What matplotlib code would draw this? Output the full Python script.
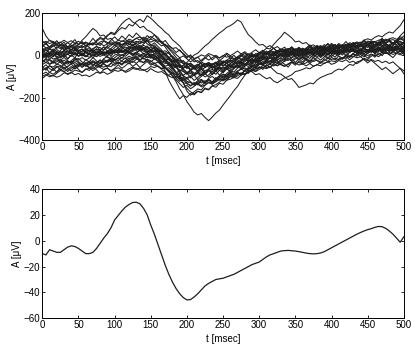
import numpy as np
import matplotlib
matplotlib.use('Agg')
import matplotlib.pyplot as plt

# ── Data ──────────────────────────────────────────────────────────────────────
t_ms = list(range(0, 501, 5))   # 101 samples, 5 ms apart

# single trials (uV), one list per trial, values at t_ms
trial_01 = [20, 28, 15, 22, 40, 33, 45, 30, 38, 52, 41,
            48, 63, 55, 49, 72, 85, 78, 96, 104, 98,
            118, 132, 125, 147, 139, 160, 171, 158, 188, 176,
            160, 142, 128, 110, 97, 74, 60, 45, 22, 5,
            -12, -30, -24, -41, -55, -47, -38, -52, -44, -29,
            -35, -22, -30, -14, -3, -11, 4, -6, 9, 2,
            14, 8, 23, 17, 6, 19, 30, 21, 12, 25,
            18, 33, 27, 14, 22, 36, 41, 29, 35, 47,
            38, 30, 44, 52, 39, 33, 48, 57, 45, 51,
            40, 54, 62, 47, 38, 52, 60, 44, 55, 49]
trial_02 = [-15, 2, -8, 10, 18, 6, 24, 16, 30, 21, 35,
            44, 37, 58, 51, 66, 80, 74, 92, 110, 103,
            128, 150, 166, 176, 158, 149, 131, 138, 120, 112,
            98, 85, 62, 40, 15, -12, -48, -86, -130, -168,
            -188, -172, -158, -163, -141, -128, -134, -112, -98, -104,
            -85, -72, -78, -60, -46, -51, -33, -24, -29, -12,
            -4, 9, 3, 18, 11, 26, 19, 33, 24, 15,
            22, 10, 17, 31, 25, 12, 20, 34, 28, 19,
            30, 41, 33, 24, 38, 47, 36, 29, 43, 55,
            48, 39, 52, 66, 57, 45, 58, 70, 63, 56]
trial_03 = [-58, -44, -62, -71, -55, -49, -66, -52, -40, -57, -46,
            -38, -51, -43, -30, -36, -48, -33, -22, -29, -17,
            -24, -9, -15, -3, -12, 6, -2, 11, -4, -13,
            -8, -24, -38, -55, -72, -96, -124, -158, -186, -218,
            -242, -268, -281, -274, -293, -308, -291, -272, -258, -234,
            -212, -190, -166, -146, -118, -94, -66, -42, -25, -9,
            -18, -4, -13, 6, -2, 12, 3, 17, 8, -5,
            2, -11, 5, 16, 4, 13, -3, 9, 22, 11,
            18, 6, 14, 29, 17, 24, 10, 21, 33, 20,
            27, 15, 30, 42, 28, 36, 19, 31, 46, 37]
trial_04 = [42, 55, 38, 47, 33, 51, 29, 40, 26, 44, 18,
            31, 14, 27, 9, 22, 5, 16, -2, 13, 24,
            11, 20, 7, 18, 2, 12, -7, 4, -12, -3,
            -16, -8, -27, -38, -31, -50, -44, -58, -47, -33,
            -14, 2, 11, 28, 45, 58, 76, 91, 106, 118,
            133, 141, 152, 168, 158, 126, 98, 83, 64, 49,
            52, 38, 47, 33, 42, 28, 39, 24, 31, 19,
            27, 14, 23, 40, 32, 47, 36, 51, 42, 57,
            46, 34, 49, 38, 53, 44, 58, 47, 35, 48,
            37, 52, 43, 57, 46, 29, 41, 25, 36, 47]
trial_05 = [-88, -79, -93, -97, -84, -71, -76, -90, -82, -69, -74,
            -80, -66, -60, -71, -58, -49, -55, -47, -53, -38,
            -34, -45, -29, -24, -33, -18, -21, -12, -26, -37,
            -46, -52, -61, -57, -74, -83, -92, -86, -98, -105,
            -96, -88, -81, -90, -73, -69, -78, -62, -57, -65,
            -52, -47, -55, -40, -33, -41, -29, -24, -32, -36,
            -45, -58, -52, -69, -84, -88, -101, -114, -109, -128,
            -151, -145, -139, -130, -134, -116, -104, -97, -89, -85,
            -72, -64, -69, -55, -42, -47, -31, -25, -14, -19,
            -3, 4, -6, 8, 15, 6, 18, 11, 22, 14]
trial_06 = [128, 92, 70, 66, 58, 63, 49, 41, 46, 33, 25,
            29, 16, 8, 17, 5, -4, 3, -9, -14, 2,
            8, -1, 12, 19, 9, 15, 26, 21, 13, 4,
            -6, -2, -15, -29, -38, -47, -58, -69, -76, -88,
            -85, -94, -81, -77, -89, -72, -66, -74, -61, -55,
            -58, -49, -60, -45, -53, -64, -70, -77, -91, -86,
            -99, -110, -104, -121, -129, -118, -106, -100, -91, -76,
            -72, -66, -58, -63, -51, -44, -49, -36, -31, -25,
            -29, -16, -10, -14, -2, 5, 1, 13, 9, 20,
            16, 24, 31, 22, 28, 39, 33, 41, 30, 17]
trial_07 = [8, -6, -2, -17, -11, -23, -9, -26, -33, -20, -14,
            -31, -38, -27, -42, -49, -36, -19, -28, -22, -37,
            -30, -41, -24, -12, -21, -8, -29, -33, -18, -25,
            -39, -31, -47, -62, -58, -77, -91, -110, -104, -122,
            -128, -136, -119, -113, -127, -108, -99, -114, -97, -88,
            -94, -79, -85, -72, -66, -58, -69, -52, -46, -38,
            -47, -31, -25, -33, -19, -12, -20, -4, -9, 6,
            1, 14, 8, 21, 13, 26, 30, 19, 33, 41,
            35, 47, 42, 53, 38, 57, 64, 58, 71, 79,
            73, 86, 94, 88, 102, 111, 106, 124, 141, 168]
trial_08 = [-3, 12, 6, 19, 28, 14, 22, 9, 25, 38, 51,
            72, 88, 109, 128, 115, 92, 97, 76, 81, 62,
            58, 49, 55, 41, 47, 36, 28, 39, 26, 18,
            24, 11, -2, -19, -37, -58, -83, -106, -131, -155,
            -172, -181, -168, -176, -154, -160, -143, -138, -126, -112,
            -117, -99, -93, -84, -88, -70, -63, -55, -58, -41,
            -37, -24, -29, -11, -6, 5, -2, 14, 19, 27,
            21, 30, 18, 9, 16, 24, 33, 20, 28, 37,
            31, 42, 38, 29, 45, 51, 40, 47, 56, 49,
            58, 64, 53, 61, 70, 66, 59, 72, 81, 74]
trial_09 = [-28, -15, -22, -36, -30, -19, -34, -41, -27, -44, -52,
            -39, -47, -58, -45, -31, -38, -26, -33, -15, -24,
            -11, -28, -35, -19, -8, -14, -2, -17, -6, 7,
            1, -16, -42, -76, -118, -149, -178, -205, -189, -198,
            -180, -186, -170, -174, -158, -163, -144, -150, -131, -136,
            -117, -112, -104, -108, -92, -86, -79, -73, -64, -60,
            -48, -51, -39, -31, -35, -22, -18, -24, -10, -4,
            6, 1, 14, 8, 22, 17, 4, 12, 9, 20,
            13, 24, 19, 31, 26, 35, 22, 15, 27, 21,
            32, 26, 38, 30, 41, 34, 46, 39, 28, 36]
trial_10 = [48, 36, 41, 57, 52, 38, 27, 35, 44, 31, 24,
            15, 29, 22, 33, 41, 37, 25, 46, 54, 49,
            38, 52, 61, 55, 47, 63, 68, 59, 72, 50,
            41, 33, 18, 22, 9, -8, -27, -21, -40, -36,
            -48, -53, -61, -49, -38, -44, -52, -57, -43, -29,
            -33, -26, -41, -35, -18, -22, -13, 2, -7, 6,
            19, 34, 31, 52, 71, 88, 110, 97, 83, 64,
            68, 56, 61, 45, 50, 39, 47, 33, 38, 27,
            35, 24, 31, 49, 40, 46, 34, 42, 60, 51,
            57, 46, 53, 69, 61, 66, 54, 62, 79, 70]
trial_11 = [-4, 9, 2, 13, -7, -12, 1, 6, 17, 8, 12,
            3, -5, 7, -2, 14, 21, 11, 18, 8, 27,
            31, 22, 16, 29, 38, 33, 24, 30, 19, 12,
            20, 5, -8, -22, -17, -35, -51, -47, -66, -82,
            -78, -90, -85, -97, -88, -71, -76, -64, -69, -57,
            -63, -58, -50, -55, -44, -39, -43, -31, -26, -29,
            -20, -24, -13, -8, -12, -1, 3, -4, 6, 9,
            -1, 11, 3, 14, 9, 18, 12, 24, 15, 28,
            19, 30, 24, 36, 29, 41, 33, 46, 38, 50,
            43, 29, 34, 21, 28, 44, 37, 42, 31, 38]
trial_12 = [68, 57, 72, 61, 44, 52, 47, 60, 49, 33, 41,
            36, 48, 39, 22, 30, 26, 41, 34, 47, 62,
            55, 69, 64, 77, 70, 81, 73, 86, 79, 90,
            78, 64, 67, 49, 31, 12, -9, -28, -24, -43,
            -38, -51, -47, -30, -41, -34, -46, -39, -22, -31,
            -24, -28, -19, -12, -16, -21, -13, -6, -2, -9,
            3, 10, 18, 14, 22, 29, 24, 31, 20, 11,
            16, 23, 19, 28, 34, 30, 36, 42, 35, 30,
            39, 45, 51, 47, 55, 49, 58, 63, 57, 61,
            68, 64, 72, 77, 70, 79, 84, 76, 88, 81]
trial_13 = [-68, -60, -49, -55, -41, -47, -58, -52, -39, -33, -45,
            -51, -44, -56, -62, -49, -57, -66, -60, -71, -64,
            -58, -69, -75, -63, -55, -61, -70, -67, -78, -62,
            -73, -80, -76, -88, -97, -105, -99, -114, -129, -133,
            -141, -136, -124, -130, -119, -127, -136, -118, -110, -115,
            -101, -95, -104, -88, -82, -90, -76, -70, -62, -55,
            -59, -48, -42, -50, -37, -44, -52, -39, -31, -36,
            -45, -40, -49, -38, -51, -44, -33, -38, -29, -42,
            -36, -24, -29, -20, -33, -27, -39, -28, -17, -25,
            -19, -28, -23, -34, -27, -38, -30, -46, -61, -86]
trial_14 = [27, 35, 31, 44, 52, 45, 49, 38, 43, 58, 53,
            61, 55, 49, 57, 52, 64, 70, 62, 54, 60,
            72, 66, 75, 63, 69, 82, 87, 79, 71, 77,
            70, 74, 61, 48, 44, 33, 37, 22, 10, -6,
            -2, -14, -9, 3, -4, 9, 2, -5, -12, 0,
            -8, -3, -15, -6, 7, 1, 8, -4, 3, 15,
            9, 13, 4, 12, 24, 18, 22, 13, 19, 32,
            27, 30, 22, 28, 41, 36, 40, 31, 38, 50,
            46, 49, 41, 47, 60, 54, 58, 49, 55, 68,
            63, 66, 58, 64, 77, 71, 75, 67, 78, 92]
trial_15 = [-98, -90, -101, -94, -103, -96, -82, -86, -80, -91, -85,
            -96, -92, -100, -91, -79, -84, -78, -89, -81, -70,
            -75, -68, -80, -73, -61, -66, -60, -71, -64, -52,
            -57, -50, -62, -58, -69, -85, -103, -99, -116, -131,
            -126, -140, -136, -148, -139, -127, -134, -125, -113, -120,
            -109, -100, -105, -96, -84, -90, -81, -70, -76, -66,
            -57, -62, -55, -43, -48, -41, -50, -43, -31, -38,
            -33, -41, -35, -22, -28, -22, -31, -25, -12, -19,
            -13, -21, -15, -2, -8, -3, -11, -6, 7, 0,
            6, -1, 4, 16, 9, 14, 5, 11, 3, 12]
trial_16 = [6, -2, 3, -4, 8, 2, 11, 5, 15, 8, -3,
            2, -5, 6, 1, 10, 4, 14, 7, 18, 11,
            21, 15, 26, 20, 30, 24, 34, 27, 16, 25,
            18, 27, 17, 3, -14, -31, -28, -42, -57, -53,
            -66, -59, -48, -58, -47, -36, -45, -35, -24, -33,
            -22, -11, -19, -9, 2, -5, 3, -7, 1, -10,
            -2, 9, 0, 8, 19, 8, 17, 6, 15, 3,
            11, 1, 9, 21, 9, 18, 7, 16, 27, 16,
            25, 14, 23, 34, 22, 31, 20, 29, 18, 27,
            16, 25, 36, 24, 33, 22, 31, 42, 31, 40]
trial_17 = [33, 24, 30, 22, 10, 18, 11, 22, 14, 2, 11,
            3, 12, 5, 16, 8, 19, 11, 22, 14, 25,
            18, 29, 40, 32, 41, 31, 39, 29, 37, 26,
            33, 18, 2, -15, -36, -55, -77, -96, -117, -107,
            -124, -139, -128, -115, -129, -117, -131, -119, -104, -90,
            -99, -84, -94, -79, -88, -73, -57, -68, -51, -35,
            -44, -30, -39, -25, -34, -20, -29, -15, -24, -10,
            -19, -5, -14, 0, -9, 5, -4, 10, 1, 15,
            6, 19, 10, 23, 14, 27, 18, 5, 20, 9,
            23, 12, 26, 15, 29, 18, 32, 21, 8, 24]
trial_18 = [-43, -33, -42, -34, -20, -30, -22, -35, -25, -10, -22,
            -10, -22, -12, 4, -4, 11, 3, 15, 6, 19,
            11, 24, 15, 28, 19, 32, 23, 36, 27, 40,
            30, 16, 22, 7, -9, -2, -20, -36, -29, -45,
            -36, -50, -41, -54, -44, -33, -45, -35, -47, -37,
            -25, -37, -27, -40, -29, -17, -29, -19, -32, -21,
            -8, -19, -8, -20, -9, 6, -5, 10, 0, 13,
            4, 18, 8, 22, 12, 26, 16, 29, 19, 8,
            22, 12, 25, 15, 28, 18, 32, 22, 35, 25,
            38, 28, 41, 31, 19, 32, 22, 35, 25, 38]
trial_19 = [58, 67, 56, 64, 53, 61, 72, 61, 70, 58, 67,
            55, 63, 52, 60, 49, 57, 46, 54, 65, 53,
            62, 51, 59, 70, 59, 67, 56, 64, 75, 63,
            71, 59, 45, 53, 37, 21, 5, -11, -2, -16,
            -30, -19, -33, -22, -9, -22, -11, 1, -12, -2,
            11, -1, 9, 21, 7, 18, 4, 15, 27, 13,
            25, 11, 22, 34, 20, 31, 17, 28, 40, 26,
            38, 24, 35, 47, 33, 44, 30, 41, 53, 39,
            51, 37, 48, 34, 45, 57, 43, 54, 40, 51,
            63, 49, 60, 46, 57, 69, 55, 66, 52, 64]
trial_20 = [-108, -95, -80, -89, -76, -64, -76, -66, -52, -63, -53,
            -38, -49, -38, -24, -35, -24, -36, -25, -11, -22,
            -10, 5, -4, 11, 1, 16, 5, -6, 7, -3,
            10, -1, -15, -30, -46, -40, -55, -71, -64, -80,
            -69, -84, -74, -60, -74, -63, -49, -63, -52, -38,
            -51, -39, -25, -38, -26, -12, -26, -15, -1, -14,
            -2, -15, -4, 9, -4, 7, -6, 5, 18, 5,
            16, 3, 14, 0, 11, 23, 9, 20, 6, 17,
            29, 15, 26, 12, 23, 35, 21, 32, 18, 29,
            15, 26, 38, 24, 35, 21, 32, 44, 30, 41]
trial_21 = [14, 3, 13, 4, -8, 4, -6, 6, -4, 8, -2,
            10, 0, -9, 3, -6, 6, 18, 8, 21, 11,
            24, 14, 27, 42, 32, 45, 35, 48, 38, 27,
            40, 29, 17, 4, -9, -22, -40, -57, -47, -62,
            -51, -65, -54, -68, -57, -45, -59, -48, -36, -50,
            -38, -52, -41, -28, -42, -30, -17, -31, -19, -6,
            -20, -8, 6, -5, 9, -2, 12, 1, 15, 4,
            -6, 8, -3, 11, 0, 14, 3, 17, 6, 20,
            9, 23, 12, 26, 15, 29, 18, 7, 21, 10,
            24, 13, 27, 16, 30, 19, 33, 22, 36, 25]
trial_22 = [-22, -33, -20, -29, -42, -28, -39, -27, -37, -24, -34,
            -46, -34, -44, -30, -41, -53, -40, -50, -37, -47,
            -33, -43, -29, -40, -26, -37, -23, -34, -20, -31,
            -16, -28, -43, -60, -78, -96, -115, -133, -151, -141,
            -157, -146, -130, -143, -128, -113, -126, -111, -96, -109,
            -94, -79, -92, -77, -62, -75, -60, -45, -58, -43,
            -28, -41, -26, -11, -24, -9, 6, -7, 8, -5,
            -20, -7, -22, -37, -24, -9, -22, -7, 8, -5,
            10, -3, -18, -5, -20, -7, 8, -5, -20, -35,
            -22, -37, -52, -67, -56, -71, -86, -73, -60, -72]
trial_23 = [12, 25, 9, 31, 18, 4, 22, 37, 19, 28, 8,
            21, 35, 17, 29, 44, 26, 39, 20, 33, 48,
            57, 41, 62, 50, 68, 47, 59, 74, 55, 43,
            50, 28, 12, -6, -21, -38, -29, -52, -61, -47,
            -66, -55, -72, -49, -38, -56, -42, -31, -47, -25,
            -36, -19, -30, -8, -22, -4, -15, 9, -6, 14,
            3, 21, 7, -2, 16, 28, 11, 24, 35, 19,
            30, 12, 27, 41, 23, 36, 18, 44, 31, 50,
            38, 57, 42, 29, 48, 61, 45, 53, 70, 52,
            64, 47, 58, 73, 55, 40, 62, 51, 68, 57]
trial_24 = [-35, -18, -41, -27, -12, -33, -46, -25, -38, -14, -29,
            -42, -20, -31, -9, -26, -37, -15, -4, -22, -11,
            3, -14, 8, 19, -2, 12, 25, 7, 16, -5,
            -19, -8, -33, -51, -44, -68, -83, -71, -95, -112,
            -99, -118, -104, -87, -101, -92, -76, -89, -70, -82,
            -64, -73, -58, -46, -61, -43, -52, -35, -47, -28,
            -39, -21, -33, -16, -27, -41, -24, -12, -29, -17,
            -6, -19, -2, -14, 5, -9, 11, -3, -16, 4,
            -8, 13, 2, 18, -5, 9, 22, 6, -7, 12,
            25, 8, 19, 34, 15, 3, 21, 37, 18, 29]
trial_25 = [3, -14, 10, -6, 19, -9, 7, -18, 2, -11, 14,
            -3, 20, 6, -12, 11, 27, 4, 16, -5, 22,
            38, 15, 31, 9, 26, 44, 21, 36, 12, 29,
            8, 22, -5, -24, -13, -40, -56, -43, -74, -88,
            -70, -96, -81, -62, -85, -69, -91, -74, -57, -79,
            -48, -66, -40, -58, -31, -50, -24, -39, -13, -30,
            -8, -27, -2, 14, -11, 6, -16, 9, 24, 1,
            17, -4, 12, 29, 8, 22, -2, 15, 31, 10,
            26, 4, 19, 37, 15, 30, 9, 24, 42, 18,
            33, 11, 28, 46, 22, 38, 14, 32, 50, 27]
trial_26 = [-72, -58, -81, -64, -50, -69, -55, -76, -61, -47, -66,
            -80, -63, -71, -52, -68, -84, -67, -59, -75, -60,
            -44, -61, -48, -33, -52, -39, -57, -42, -28, -46,
            -35, -51, -66, -79, -94, -83, -108, -122, -106, -131,
            -145, -127, -139, -119, -133, -112, -125, -104, -117, -96,
            -109, -88, -100, -79, -93, -71, -84, -62, -75, -53,
            -66, -44, -57, -36, -49, -28, -41, -55, -33, -46,
            -25, -38, -17, -31, -10, -24, -37, -15, -29, -8,
            -21, -2, -15, 4, -9, 10, -4, 16, 1, -12,
            6, -8, 13, -1, 19, 3, -10, 9, 24, 5]
trial_27 = [44, 61, 37, 52, 70, 48, 63, 39, 57, 75, 50,
            66, 43, 58, 81, 60, 47, 69, 55, 73, 88,
            71, 92, 77, 99, 84, 106, 89, 72, 94, 80,
            97, 76, 58, 71, 48, 33, 14, 27, 5, -12,
            3, -19, -7, -28, -14, 2, -21, -6, -25, -11,
            6, -14, 1, -18, -3, 13, -7, 9, -10, 5,
            21, 4, 18, 35, 14, 29, 8, 24, 41, 22,
            38, 17, 33, 50, 28, 45, 24, 40, 57, 36,
            52, 31, 47, 66, 44, 60, 38, 55, 74, 51,
            68, 46, 63, 82, 59, 76, 54, 71, 93, 110]
trial_28 = [-12, 5, -18, -3, 13, -9, 6, -15, 1, 17, -4,
            10, -7, 15, 28, 9, 22, 3, 18, 31, 14,
            26, 41, 23, 37, 52, 34, 48, 30, 45, 27,
            39, 19, 0, 13, -11, -29, -18, -44, -60, -48,
            -72, -58, -79, -64, -83, -67, -50, -69, -53, -71,
            -55, -39, -58, -42, -26, -45, -29, -13, -32, -16,
            1, -17, -3, 12, -6, 9, 26, 7, 21, 4,
            19, 35, 16, 30, 11, 27, 43, 24, 38, 20,
            35, 51, 32, 46, 28, 44, 59, 40, 55, 37,
            52, 34, 49, 65, 46, 30, 48, 63, 44, 58]
trial_29 = [26, 9, 33, 18, 2, 24, 41, 20, 7, 29, 15,
            1, 23, 38, 16, 32, 11, 27, 43, 21, 37,
            52, 33, 49, 65, 45, 58, 39, 54, 70, 48,
            60, 42, 26, 3, 17, -7, -25, -12, -38, -57,
            -43, -64, -49, -35, -57, -41, -62, -46, -29, -50,
            -33, -51, -36, -19, -40, -23, -8, -27, -11, 5,
            -14, 2, 17, -3, 13, 29, 10, 25, 6, 20,
            36, 15, 31, 12, 28, 44, 23, 39, 18, 34,
            14, 30, 46, 25, 41, 20, 37, 53, 31, 47,
            27, 43, 59, 38, 55, 33, 50, 67, 45, 62]
trial_30 = [-52, -70, -48, -63, -79, -56, -41, -60, -74, -53, -38,
            -57, -43, -29, -48, -34, -20, -39, -55, -36, -22,
            -40, -25, -11, -30, -16, -2, -21, -7, 9, -10,
            4, -15, -33, -22, -47, -63, -52, -78, -94, -81,
            -106, -91, -115, -98, -84, -102, -87, -71, -93, -76,
            -60, -79, -63, -47, -66, -50, -34, -53, -37, -21,
            -40, -24, -8, -27, -11, 5, -14, 2, -17, -33,
            -15, -31, -12, -26, -9, 7, -10, 6, -11, 4,
            20, 3, 18, -1, 14, 30, 11, 26, 8, 23,
            39, 19, 35, 16, 31, 47, 27, 43, 22, 38]

trials = [trial_01, trial_02, trial_03, trial_04, trial_05, trial_06,
          trial_07, trial_08, trial_09, trial_10, trial_11, trial_12,
          trial_13, trial_14, trial_15, trial_16, trial_17, trial_18,
          trial_19, trial_20, trial_21, trial_22, trial_23, trial_24,
          trial_25, trial_26, trial_27, trial_28, trial_29, trial_30]

# averaged response (uV) at t_ms
erp = [-10, -11, -7, -8, -9, -9, -7, -5, -4, -4.5, -6,
       -8, -10, -10, -9, -6, -2, 2, 5.5, 10, 16,
       19.5, 23, 26, 28, 29.5, 29.7, 28.5, 25, 20, 12,
       5, -3, -11, -19, -26, -32, -37, -41, -44, -45.8,
       -45.5, -43.5, -41, -38, -35, -33, -31.5, -30, -29.5, -29,
       -28, -27, -26, -24.5, -23, -21.5, -20, -18.5, -17.5, -16.5,
       -14.5, -12.5, -11, -10, -9, -8, -7.7, -7.5, -7.8, -8,
       -8.5, -9, -9.6, -10, -10.2, -10, -9.5, -8.5, -7, -5.5,
       -4, -2.5, -1, 0.5, 2, 3.5, 5, 6.3, 7.5, 8.5,
       9.3, 10.3, 11, 10.8, 9.5, 7.5, 5, 2, -1.2, 3]

# ── Style ─────────────────────────────────────────────────────────────────────
plt.rcParams['font.family'] = ['Liberation Sans', 'DejaVu Sans']
plt.rcParams['font.size'] = 7


def matlab_axes(ax):
    ax.tick_params(direction='in', top=True, right=True, length=2.5, width=0.6, pad=1.5)
    for s in ax.spines.values():
        s.set_linewidth(0.7)
    ax.set_xlim(0, 500)
    ax.set_xticks(range(0, 501, 50))
    ax.set_xlabel('t [msec]', labelpad=2.5)
    ax.set_ylabel('A [\u03bcV]', labelpad=1)


fig = plt.figure(figsize=(4.15, 3.46), dpi=100)
ax1 = fig.add_axes([0.102, 0.595, 0.871, 0.367])
ax2 = fig.add_axes([0.102, 0.080, 0.871, 0.374])

for tr in trials:
    ax1.plot(t_ms, tr, color='#1e1e1e', linewidth=0.75)
matlab_axes(ax1)
ax1.set_ylim(-400, 200)
ax1.set_yticks(range(-400, 201, 200))

ax2.plot(t_ms, erp, color='#1e1e1e', linewidth=0.9)
matlab_axes(ax2)
ax2.set_ylim(-60, 40)
ax2.set_yticks(range(-60, 41, 20))

fig.savefig('out.png', dpi=100)
